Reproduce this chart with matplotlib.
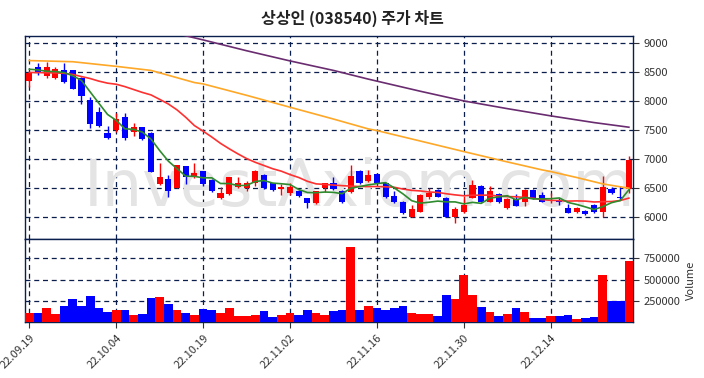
import numpy as np
import pandas as pd
import matplotlib
matplotlib.use("Agg")
import matplotlib.pyplot as plt

plt.rcParams['font.family'] = ['Noto Sans CJK KR', 'DejaVu Sans']

# trading days (KRX), 2022-09-19 .. 2022-12-27
kr_holidays = ['2022-10-03', '2022-10-10']
days = pd.bdate_range('2022-09-19', '2022-12-27')
days = days[~days.isin(pd.to_datetime(kr_holidays))]
date_labels = [d.strftime('%y.%m.%d') for d in days]

opens = [8355, 8591, 8441, 8395, 8539, 8539, 8395, 8021, 7819, 7456,
         7502, 7721, 7468, 7549, 7445, 6564, 6656, 6507, 6881, 6697,
         6794, 6639, 6334, 6392, 6524, 6495, 6593, 6725, 6582, 6478,
         6420, 6449, 6322, 6236, 6507, 6593, 6449, 6437, 6794, 6628,
         6742, 6582, 6368, 6253, 6006, 6092, 6340, 6466, 6322, 6006,
         6081, 6334, 6535, 6265, 6392, 6150, 6311, 6253, 6466, 6380,
         6310, 6270, 6150, 6092, 6104, 6207, 6092, 6484, 6340, 6478]
closes = [8481, 8498, 8591, 8556, 8337, 8205, 8096, 7600, 7577, 7370,
          7693, 7370, 7549, 7341, 6771, 6697, 6455, 6898, 6697, 6754,
          6570, 6455, 6409, 6691, 6582, 6582, 6794, 6495, 6466, 6524,
          6512, 6368, 6236, 6449, 6582, 6483, 6253, 6708, 6593, 6725,
          6593, 6340, 6253, 6075, 6138, 6380, 6420, 6351, 6006, 6138,
          6207, 6553, 6265, 6449, 6253, 6311, 6196, 6466, 6322, 6265,
          6322, 6262, 6075, 6150, 6052, 6092, 6524, 6409, 6334, 6985]
highs = [8490, 8654, 8683, 8585, 8666, 8539, 8424, 8078, 7894, 7577,
         7790, 7790, 7629, 7560, 7460, 6938, 6725, 6898, 6881, 6938,
         6800, 6650, 6524, 6691, 6691, 6628, 6812, 6740, 6590, 6570,
         6582, 6460, 6330, 6449, 6593, 6691, 6460, 6898, 6812, 6812,
         6755, 6590, 6449, 6270, 6207, 6390, 6495, 6475, 6340, 6178,
         6368, 6639, 6550, 6535, 6409, 6320, 6397, 6489, 6475, 6426,
         6409, 6322, 6225, 6178, 6115, 6225, 6708, 6524, 6541, 7054]
lows = [8251, 8452, 8407, 8383, 8309, 8205, 7952, 7531, 7560, 7347,
        7474, 7330, 7399, 7330, 6771, 6553, 6351, 6495, 6564, 6668,
        6535, 6437, 6311, 6380, 6495, 6455, 6535, 6480, 6449, 6380,
        6380, 6350, 6150, 6225, 6437, 6470, 6240, 6409, 6575, 6600,
        6580, 6330, 6240, 6052, 5994, 6080, 6311, 6340, 5990, 5902,
        6070, 6320, 6250, 6255, 6240, 6140, 6180, 6196, 6310, 6250,
        6236, 6207, 6063, 6063, 6034, 6070, 5994, 6400, 6294, 6409]
volumes = [111e3, 111e3, 163e3, 99e3, 194e3, 270e3, 186e3, 302e3, 163e3, 123e3,
           147e3, 147e3, 87e3, 99e3, 278e3, 290e3, 218e3, 147e3, 111e3, 87e3,
           159e3, 147e3, 111e3, 171e3, 75e3, 75e3, 87e3, 135e3, 63e3, 87e3,
           111e3, 87e3, 147e3, 111e3, 87e3, 135e3, 147e3, 885e3, 147e3, 194e3,
           171e3, 147e3, 171e3, 194e3, 111e3, 99e3, 99e3, 75e3, 313e3, 266e3,
           552e3, 313e3, 183e3, 123e3, 75e3, 99e3, 171e3, 123e3, 52e3, 52e3,
           75e3, 75e3, 87e3, 40e3, 52e3, 63e3, 552e3, 246e3, 254e3, 718e3]

# moving-average values before enough closes are available
ma5_head = [8550, 8539, 8515, 8510]
ma20_head = [8495, 8492, 8490, 8486, 8481, 8460, 8424, 8390, 8345, 8310,
             8291, 8250, 8200, 8150, 8107, 8030, 7950, 7848, 7720]
# long moving averages (candle index, price)
ma60_idx = [0, 5, 10, 14, 19, 20, 25, 30, 35, 39, 40, 45, 50, 55, 59, 60, 63, 66, 69]
ma60_val = [8700, 8680, 8600, 8530, 8320, 8297, 8100, 7894, 7690, 7520,
            7491, 7310, 7128, 6950, 6812, 6783, 6680, 6570, 6495]
ma120_idx = [16, 20, 25, 30, 35, 39, 45, 50, 55, 60, 65, 69]
ma120_val = [9200, 9057, 8870, 8694, 8530, 8380, 8170, 8003, 7870, 7745, 7629, 7549]

n = len(closes)
x = np.arange(n)
cl = pd.Series(closes, dtype=float)
ma5 = cl.rolling(5).mean().to_numpy()
ma5[:4] = ma5_head
ma20 = cl.rolling(20).mean().to_numpy()
ma20[:19] = ma20_head

up = np.array(closes) >= np.array(opens)
colors = np.where(up, '#ff0000', '#0000ff')

navy = '#0b1f4f'
fig = plt.figure(figsize=(7.04, 3.78), dpi=100)
ax = fig.add_axes([0.0355, 0.368, 0.864, 0.537])
axv = fig.add_axes([0.0355, 0.148, 0.864, 0.22], sharex=ax)

fig.text(0.5, 0.952, '상상인 (038540) 주가 차트', ha='center', va='center',
         fontsize=11.5, fontweight='bold', color='#222222')
ax.text(0.55, 0.25, 'InvestAxiom.com', ha='center', va='center', fontsize=46,
        color='#e4e4e4', zorder=1, family='DejaVu Sans', transform=ax.transAxes)

for a in (ax, axv):
    a.grid(True, color=navy, linestyle=(0, (4, 3)), linewidth=0.9)
    a.yaxis.tick_right()
    for s in a.spines.values():
        s.set_color(navy)
        s.set_linewidth(1.0)
    a.tick_params(colors='#333333', labelsize=8, length=4)
    a.set_axisbelow(True)

# candles
ax.vlines(x, lows, highs, colors=colors, linewidth=1.0, zorder=3)
body_low = np.minimum(opens, closes)
body_h = np.maximum(np.abs(np.array(closes) - np.array(opens)), 8)
ax.bar(x, body_h, bottom=body_low, width=0.7, color=colors, zorder=4)

ax.plot(ma120_idx, ma120_val, color='#6a2c70', linewidth=1.2, zorder=5)
ax.plot(ma60_idx, ma60_val, color='#ffa726', linewidth=1.2, zorder=5)
ax.plot(x, ma20, color='#ff3030', linewidth=1.2, zorder=5)
ax.plot(x, ma5, color='#2e8b2e', linewidth=1.2, zorder=5)

ax.set_ylim(5620, 9126)
ax.set_yticks([6000, 6500, 7000, 7500, 8000, 8500, 9000])
ax.set_xlim(-0.5, n - 0.5)
plt.setp(ax.get_xticklabels(), visible=False)
ax.tick_params(axis='x', length=0)

axv.bar(x, volumes, width=1.0, color=colors, zorder=3)
axv.set_ylim(0, 980000)
axv.set_yticks([250000, 500000, 750000])
axv.set_yticklabels(['250000', '500000', '750000'])
axv.yaxis.set_label_position('right')
axv.set_ylabel('Volume', fontsize=8, color='#333333', labelpad=4)

tick_pos = list(range(0, n, 10))
axv.set_xticks(tick_pos)
axv.set_xticklabels([date_labels[i] for i in tick_pos], rotation=45,
                    ha='right', rotation_mode='anchor', fontsize=8)

fig.savefig('out.png', dpi=100)
